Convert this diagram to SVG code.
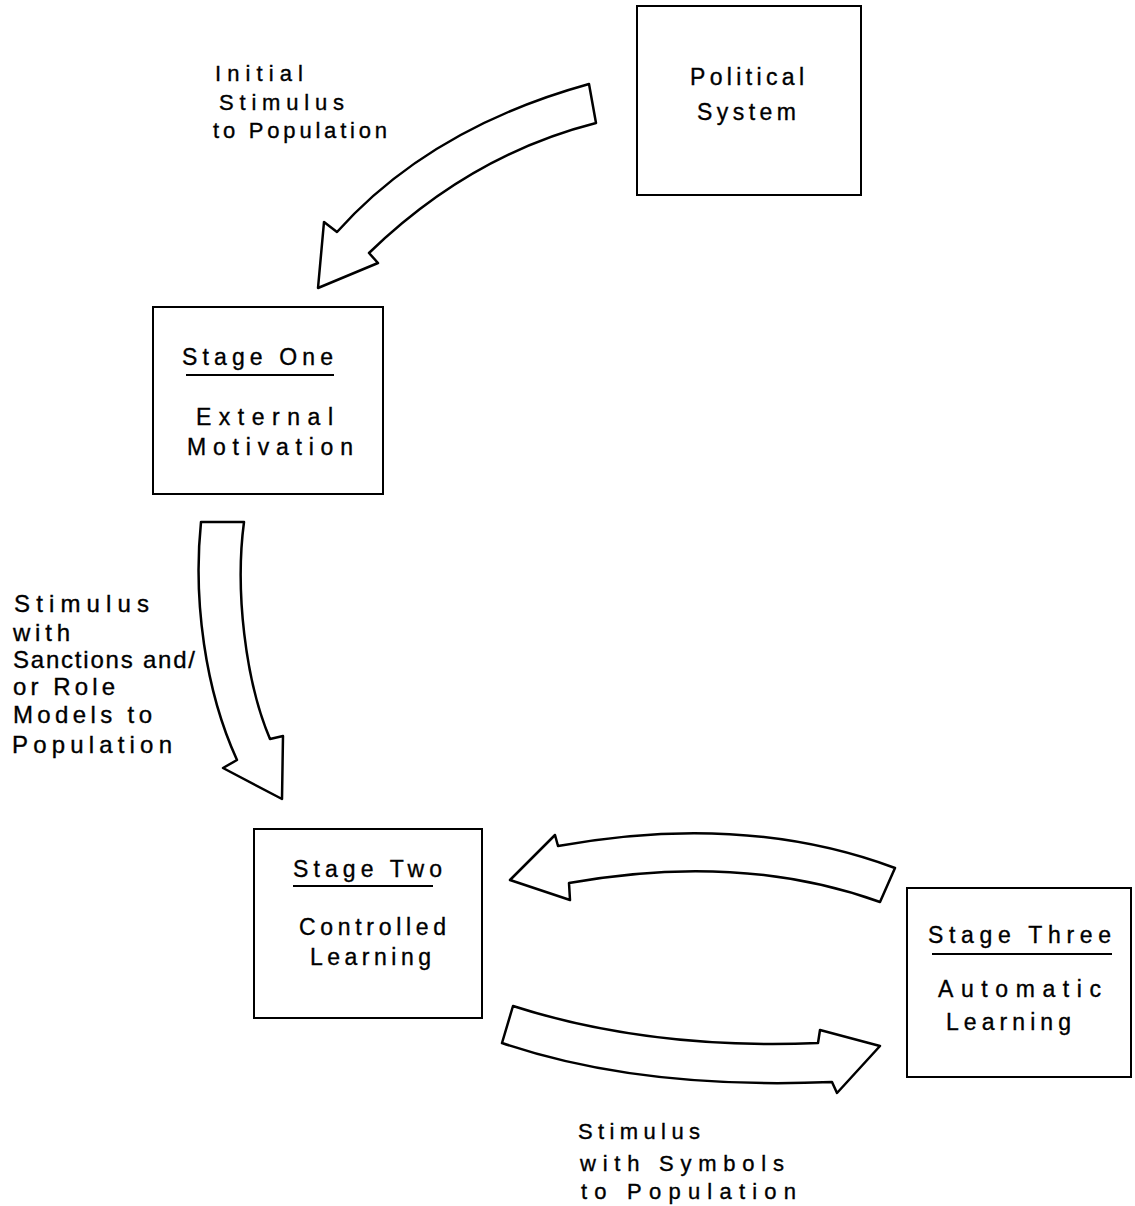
<svg xmlns="http://www.w3.org/2000/svg" width="1135" height="1206" viewBox="0 0 1135 1206">
  <style>
    .box { fill: #fff; stroke: #000; stroke-width: 2; }
    .rule { stroke: #000; stroke-width: 2; }
    .flow { fill: #fff; stroke: #000; stroke-width: 2.5; stroke-linejoin: round; }
    text { font-family: "Liberation Sans", "DejaVu Sans", sans-serif; font-size: 23px; fill: #000; stroke: #000; stroke-width: 0.35; }
    .lab { font-size: 22px; }
    .side { font-size: 24px; }
  </style>
  <rect width="1135" height="1206" fill="#fff"/>

  <!-- curved block arrows -->
  <g id="connectors">
    <path class="flow" d="M589,84 Q430,128 337,232 L324,222 L318,288 L378,263 L369,253 Q470,155 596,123 Z"/>
    <path class="flow" d="M201,522 C193,600 205,690 237,760 L223,768 L282,799 L283,736 L270,739 C245,680 235,590 244,522 Z"/>
    <path class="flow" d="M895,868 Q745,812 558,846 L555,835 L510,880 L570,900 L569,883 Q740,852 880,902 Z"/>
    <path class="flow" d="M513,1006 Q650,1050 818,1043 L820,1030 L880,1046 L837,1093 L832,1082 Q640,1090 502,1043 Z"/>
  </g>

  <g id="political-system">
    <rect class="box" x="637" y="6" width="224" height="189"/>
    <text x="690" y="85" textLength="114" lengthAdjust="spacing">Political</text>
    <text x="697" y="120" textLength="99" lengthAdjust="spacing">System</text>
  </g>

  <g id="stage-one">
    <rect class="box" x="153" y="307" width="230" height="187"/>
    <text x="182" y="365" textLength="151" lengthAdjust="spacing">Stage One</text>
    <line class="rule" x1="186" y1="375" x2="334" y2="375"/>
    <text x="196" y="425" textLength="137" lengthAdjust="spacing">External</text>
    <text x="187" y="455" textLength="166" lengthAdjust="spacing">Motivation</text>
  </g>

  <g id="stage-two">
    <rect class="box" x="254" y="829" width="228" height="189"/>
    <text x="293" y="877" textLength="149" lengthAdjust="spacing">Stage Two</text>
    <line class="rule" x1="293" y1="886" x2="433" y2="886"/>
    <text x="299" y="935" textLength="147" lengthAdjust="spacing">Controlled</text>
    <text x="310" y="965" textLength="121" lengthAdjust="spacing">Learning</text>
  </g>

  <g id="stage-three">
    <rect class="box" x="907" y="888" width="224" height="189"/>
    <text x="928" y="943" textLength="183" lengthAdjust="spacing">Stage Three</text>
    <line class="rule" x1="932" y1="954" x2="1112" y2="954"/>
    <text x="938" y="997" textLength="163" lengthAdjust="spacing">Automatic</text>
    <text x="946" y="1030" textLength="125" lengthAdjust="spacing">Learning</text>
  </g>

  <!-- arrow captions -->
  <g id="label-initial">
    <text class="lab" x="215" y="81" textLength="88" lengthAdjust="spacing">Initial</text>
    <text class="lab" x="219" y="110" textLength="125" lengthAdjust="spacing">Stimulus</text>
    <text class="lab" x="213" y="138" textLength="174" lengthAdjust="spacing">to Population</text>
  </g>

  <g id="label-sanctions">
    <text class="side" x="14" y="612" textLength="135" lengthAdjust="spacing">Stimulus</text>
    <text class="side" x="13" y="641" textLength="57" lengthAdjust="spacing">with</text>
    <text class="side" x="13" y="668" textLength="182" lengthAdjust="spacing">Sanctions and/</text>
    <text class="side" x="13" y="695" textLength="102" lengthAdjust="spacing">or Role</text>
    <text class="side" x="13" y="723" textLength="139" lengthAdjust="spacing">Models to</text>
    <text class="side" x="12" y="753" textLength="160" lengthAdjust="spacing">Population</text>
  </g>

  <g id="label-symbols">
    <text class="lab" x="578" y="1139" textLength="122" lengthAdjust="spacing">Stimulus</text>
    <text class="lab" x="580" y="1171" textLength="204" lengthAdjust="spacing">with Symbols</text>
    <text class="lab" x="581" y="1199" textLength="215" lengthAdjust="spacing">to Population</text>
  </g>
</svg>
